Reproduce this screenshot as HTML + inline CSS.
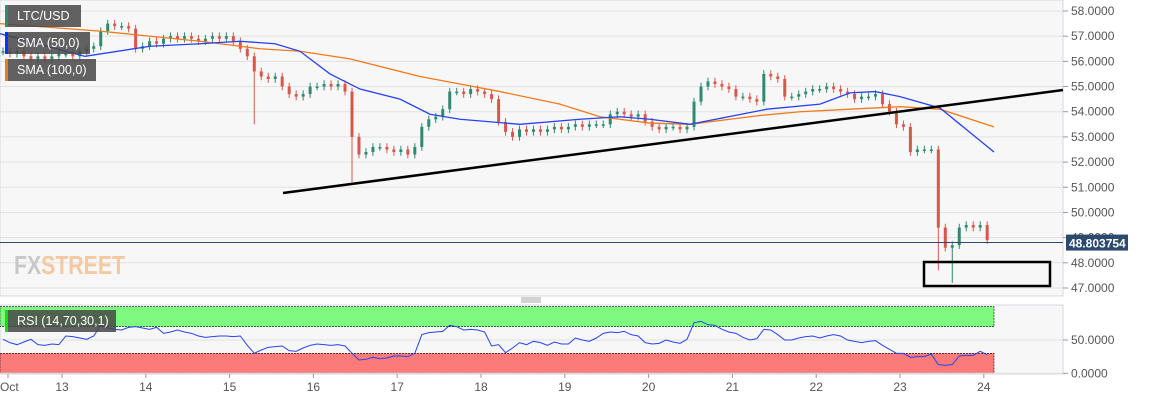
<!DOCTYPE html>
<html><head><meta charset="utf-8"><style>
body{margin:0;background:#fff;width:1153px;height:400px;overflow:hidden;font-family:"Liberation Sans",sans-serif}
svg text{font-family:"Liberation Sans",sans-serif}
</style></head><body>
<svg id="c" width="1153" height="400"></svg>
<script>
const closes=[56.4,56.3,56.4,56.2,56.1,56.2,56.1,56.2,56.3,56.3,56.2,56.4,56.5,56.6,57.2,57.5,57.4,57.4,57.3,56.5,56.6,56.8,56.7,56.9,57.0,56.9,57.0,56.9,56.8,56.9,57.0,56.9,57.0,56.8,56.5,56.2,55.6,55.4,55.3,55.4,55.0,54.7,54.6,54.7,55.0,55.0,55.1,55.0,55.1,54.8,53.0,52.3,52.4,52.6,52.6,52.5,52.4,52.5,52.3,52.6,53.4,53.7,53.8,54.1,54.8,54.8,54.7,54.9,54.8,54.7,54.5,53.6,53.2,53.0,53.3,53.2,53.3,53.2,53.3,53.4,53.3,53.4,53.5,53.4,53.5,53.5,53.5,53.9,54.0,53.9,53.8,53.9,53.6,53.4,53.3,53.4,53.4,53.3,53.4,54.4,55.0,55.2,55.1,55.0,54.9,54.6,54.6,54.5,54.4,55.5,55.4,55.3,54.6,54.6,54.7,54.8,54.9,54.9,55.0,54.9,54.8,54.7,54.5,54.6,54.6,54.7,54.3,54.0,53.5,53.4,52.4,52.5,52.5,52.5,49.4,48.6,48.7,49.4,49.5,49.4,49.5,48.9];
const spikeIdx=[36,50,134,136];
const spikeLow=[53.5,51.2,47.7,47.2];
const sma50X=[0,85,150,200,240,275,300,330,360,400,430,460,520,580,620,650,690,767,820,850,875,900,940,960,994];
const sma50=[57.1,56.2,56.6,56.7,56.8,56.7,56.4,55.5,54.9,54.5,53.9,53.7,53.5,53.7,53.8,53.7,53.5,54.1,54.3,54.75,54.8,54.6,54.15,53.5,52.4];
const sma100X=[0,100,200,260,300,350,420,460,500,560,600,650,690,720,760,800,850,900,940,994];
const sma100=[57.5,57.2,56.8,56.5,56.4,56.1,55.4,55.1,54.8,54.3,53.8,53.55,53.5,53.65,53.85,54.0,54.1,54.2,54.1,53.4];
const rsi=[51,46,43,47,51,43,42,44,43,56,55,53,51,56,72,68,66,65,69,70,68,66,69,60,62,65,62,60,56,54,55,56,56,55,56,42,30,35,39,40,41,34,33,38,42,44,43,42,43,41,30,20,21,24,22,23,26,26,25,30,58,61,62,63,72,70,65,66,65,62,41,43,31,38,46,43,48,46,42,47,44,44,53,50,48,53,60,62,61,63,58,56,46,44,45,50,47,45,51,76,78,73,72,66,62,60,54,50,52,66,65,58,50,50,53,55,56,53,56,58,56,50,48,46,48,49,42,36,30,30,24,25,25,29,13,12,13,26,27,27,33,28];
const priceTicks=[58,57,56,55,54,53,52,51,50,49,48,47];
const rsiTicks=[50,0];
const dayLabels=["Oct","13","14","15","16","17","18","19","20","21","22","23","24"];
const dayPos=[12,13,14,15,16,17,18,19,20,21,22,23,24];
const lastPrice=48.803754;

const NS="http://www.w3.org/2000/svg";
const svg=document.getElementById('c');
function el(t,a,p){const e=document.createElementNS(NS,t);for(const k in a)e.setAttribute(k,a[k]);(p||svg).appendChild(e);return e;}
const py=v=>11+(58-v)*25.18;
const ry=v=>373.3-v*0.666;
const cx=i=>3+i*6.98;
const dx=d=>62+(d-13)*83.8;

let g=el('rect',{x:0,y:0,width:1063,height:296,fill:'#f7f7f7',stroke:'#d5d9e3'});

g=el('rect',{x:0,y:305,width:1063,height:69,fill:'#f7f7f7',stroke:'#d5d9e3'});

priceTicks.forEach(v=>{
  el('line',{x1:0,x2:1063,y1:py(v),y2:py(v),stroke:'#e2e2e2'});
  el('line',{x1:1063,x2:1068,y1:py(v),y2:py(v),stroke:'#999'});
  const t=el('text',{x:1071,y:py(v)+4,'font-size':12,fill:'#555'});t.textContent=v.toFixed(4);
  
});
g=el('rect',{x:0,y:ry(100),width:994,height:ry(70)-ry(100),fill:'#7efb7e',stroke:'#000','stroke-width':0.6,'stroke-dasharray':'2,1'});

g=el('rect',{x:0,y:ry(30),width:994,height:ry(0)-ry(30),fill:'#fb7b7b',stroke:'#000','stroke-width':0.6,'stroke-dasharray':'2,1'});

rsiTicks.forEach(v=>{
  el('line',{x1:0,x2:1063,y1:ry(v),y2:ry(v),stroke:'#e2e2e2'});
  el('line',{x1:1063,x2:1068,y1:ry(v),y2:ry(v),stroke:'#999'});
  const t=el('text',{x:1071,y:ry(v)+4,'font-size':12,fill:'#555'});t.textContent=v.toFixed(4);
  
});
dayLabels.forEach((d,i)=>{
  const x=i===0?8:dx(dayPos[i]);
  el('line',{x1:x,x2:x,y1:374,y2:378,stroke:'#999'});
  const t=el('text',{x:i===0?0:x,y:391,'font-size':12,fill:'#555','text-anchor':i===0?'start':'middle'});t.textContent=d;
  
});
g=el('text',{x:14,y:274,'font-size':26,'font-weight':'bold',fill:'#c8c8c8',textLength:111,lengthAdjust:'spacingAndGlyphs'});
g.innerHTML='FX<tspan fill="#f5c9a0">STREET</tspan>';

closes.forEach((c,i)=>{
  const o=i?closes[i-1]:c;
  const up=c>=o;
  const col=up?'#2e8b72':'#d9574a';
  let lo=Math.min(o,c)-0.15,hi=Math.max(o,c)+0.15;
  const k=spikeIdx.indexOf(i);if(k>=0)lo=spikeLow[k];
  const x=cx(i);
  el('line',{x1:x,x2:x,y1:py(hi),y2:py(lo),stroke:col,'stroke-width':1});
  const top=py(Math.max(o,c)),h=Math.max(1.5,Math.abs(py(o)-py(c)));
  const r=el('rect',{x:x-1.5,y:top,width:3,height:h,fill:col});
  
});
function line(xs,vs,col,name){
  const p=el('polyline',{points:xs.map((x,i)=>x+','+py(vs[i])).join(' '),fill:'none',stroke:col,'stroke-width':1.3});
  
}
line(sma100X,sma100,'#f07a1a','sma-100-line');
line(sma50X,sma50,'#2642f0','sma-50-line');
g=el('line',{x1:283,y1:193,x2:1063,y2:90,stroke:'#000','stroke-width':2.5});

g=el('rect',{x:924,y:262,width:126,height:24,fill:'none',stroke:'#000','stroke-width':2.5});

el('line',{x1:0,x2:1063,y1:py(lastPrice),y2:py(lastPrice),stroke:'#2c4a6e','stroke-width':1});
g=el('rect',{x:1066,y:py(lastPrice)-8,width:62,height:16,fill:'#2c4a6e'});

g=el('text',{x:1069,y:py(lastPrice)+5,'font-size':12,'font-weight':'bold',fill:'#fff'});g.textContent=String(lastPrice);

g=el('polyline',{points:rsi.map((v,i)=>cx(i)+','+ry(v)).join(' '),fill:'none',stroke:'#2642f0','stroke-width':1});

function legend(y,w,col,txt,name){
  const b=el('rect',{x:5,y:y,width:w,height:22,fill:'rgba(70,70,70,0.85)'});
  
  el('rect',{x:5,y:y,width:3,height:22,fill:col});
  const t=el('text',{x:17,y:y+15,'font-size':12.5,fill:'#fff'});t.textContent=txt;
}
legend(5,76,'#2e8b72','LTC/USD','legend-ltc-usd');
legend(32,85,'#1030ff','SMA (50,0)','legend-sma-50');
legend(59,91,'#f07a1a','SMA (100,0)','legend-sma-100');
legend(310,111,'#10e010','RSI (14,70,30,1)','legend-rsi');
g=el('g',{});
[298,300,302].forEach(y=>el('line',{x1:521,x2:541,y1:y,y2:y,stroke:'#888','stroke-width':0.8},g));
</script>
</body></html>
